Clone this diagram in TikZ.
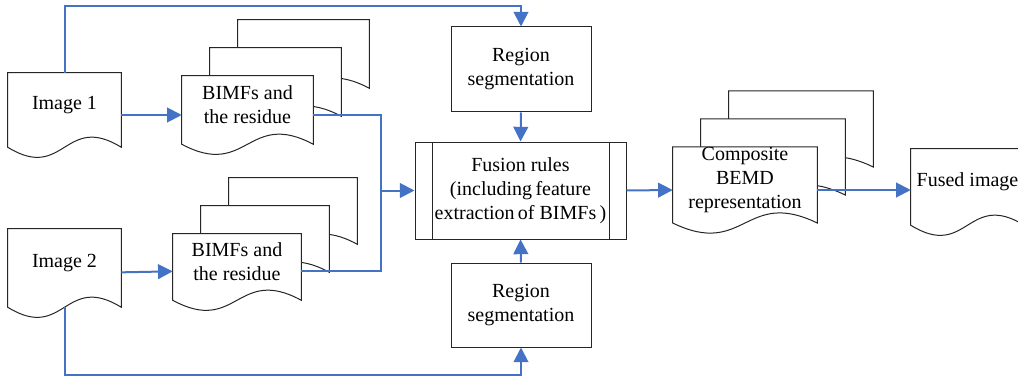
\documentclass[tikz,border=0pt]{standalone}
\usepackage{fontspec}
\setmainfont{Liberation Serif}
\usetikzlibrary{arrows.meta, positioning, calc, backgrounds}
\definecolor{flowblue}{HTML}{4472C4}

% outline of a document sheet (wavy bottom), #2 = offset of a sheet behind
\newcommand\docpath[2]{%
  \path[docline]
    ([shift={(#2,-#2+10)}]#1.south west) -- ([shift={(#2,-#2)}]#1.north west)
    -- ([shift={(#2,-#2)}]#1.north east) -- ([shift={(#2,-#2+10)}]#1.south east)
    .. controls ([shift={(#2,-#2-25)}]#1.south) and ([shift={(#2,-#2+45)}]#1.south)
    .. ([shift={(#2,-#2+10)}]#1.south west) -- cycle;}

\begin{document}
\begin{tikzpicture}[x=0.75pt, y=-0.75pt, font=\fontsize{15}{18}\selectfont,
  >={Triangle[length=11pt,width=11pt]},
  docnode/.style={rectangle, inner sep=0pt, align=center},
  docline/.style={draw=black!85, line width=0.75pt, fill=white},
  box/.style={draw=black!85, line width=0.75pt, fill=white, rectangle, inner sep=0pt, align=center},
  flow/.style={draw=flowblue, line width=1.5pt}]
  \clip (0,0) rectangle (1018,378);

  \node [docnode, minimum width=84.75pt, minimum height=48pt] (img1) at (64.5,105) {Image 1};
  \node [docnode, minimum width=84.75pt, minimum height=51pt] (img2) at (64.5,263) {Image 2};
  \node [docnode, minimum width=98.25pt, minimum height=43.5pt] (bimf1) at (247.5,105) {BIMFs and\\the residue};
  \node [docnode, minimum width=96pt, minimum height=42pt] (bimf2) at (237,262) {BIMFs and\\the residue};

  \node [box, minimum width=105pt, minimum height=63.75pt] (seg1) at (521,69.5) {Region\\segmentation};
  \node [box, minimum width=105pt, minimum height=63pt] (seg2) at (521,305) {Region\\segmentation};
  \node [box, minimum width=158.25pt, minimum height=72.75pt,
    path picture={\draw[black!85, line width=0.75pt]
      ([xshift=12.75pt]path picture bounding box.north west) -- ([xshift=12.75pt]path picture bounding box.south west)
      ([xshift=-12.75pt]path picture bounding box.north east) -- ([xshift=-12.75pt]path picture bounding box.south east);}]
    (fusion) at (520.5,190.5) {Fusion rules\\(including\,feature\\extraction\,of BIMFs\,)};

  \node [docnode, minimum width=108pt, minimum height=48pt] (comp) at (745,180) {Composite\\BEMD\\representation};
  \node [docnode, minimum width=84.75pt, minimum height=49.5pt] (fused) at (967.5,182) {Fused image};

  % sheets, back to front
  \begin{scope}[on background layer]
    \foreach \s in {56,28,0}
      \foreach \n in {bimf1,bimf2,comp} {\docpath{\n}{\s}}
    \foreach \n in {img1,img2,fused} {\docpath{\n}{0}}
  \end{scope}

  \coordinate (join) at (381,190.5);

  \draw [flow, ->] ([yshift=-7.5pt]img1.east) -- ([yshift=-7.5pt]bimf1.west);
  \draw [flow, ->] ([yshift=-7pt]img2.east) -- ([yshift=-7pt]bimf2.west);
  \draw [flow] ([yshift=-7.5pt]bimf1.east) -| (join);
  \draw [flow] ([yshift=-7pt]bimf2.east) -| (join);
  \draw [flow, ->] (join) -- (fusion.west);
  \draw [flow, ->] (img1.north) -- ++(0,-67) -| (seg1.north);
  \draw [flow, ->] ([yshift=-7.5pt]img2.south) -- ++(0,68) -| (seg2.south);
  \draw [flow, ->] (seg1.south) -- (fusion.north);
  \draw [flow, ->] (seg2.north) -- (fusion.south);
  \draw [flow, ->] (fusion.east) -- ([yshift=-7.5pt]comp.west);
  \draw [flow, ->] ([yshift=-7.5pt]comp.east) -- ([yshift=-6pt]fused.west);
\end{tikzpicture}
\end{document}
